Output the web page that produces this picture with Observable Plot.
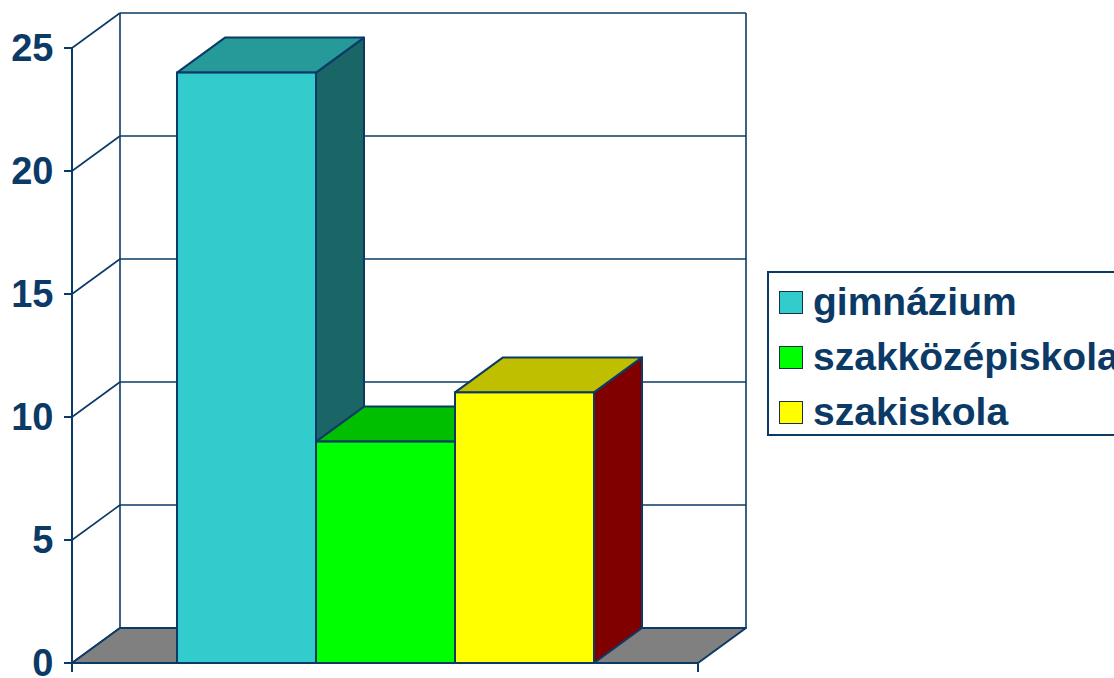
<!DOCTYPE html>
<html>
<head>
<meta charset="utf-8">
<script src="https://cdn.jsdelivr.net/npm/d3@7"></script>
<script src="https://cdn.jsdelivr.net/npm/@observablehq/plot@0.6"></script>
<style>
  html, body { margin: 0; padding: 0; background: #fff; overflow: hidden; }
  #wrap { position: relative; width: 1114px; height: 678px; overflow: hidden; font-family: "Liberation Sans", Arial, sans-serif; }
  #legend { position: absolute; left: 767px; top: 271px; width: 420px; height: 165px; border: 2px solid #0b3a66; box-sizing: border-box; }
  .item { position: absolute; left: 10px; height: 40px; display: flex; align-items: center; white-space: nowrap; }
  .sw { width: 22px; height: 21px; border: 1.5px solid #1a2f4a; margin-right: 10px; flex: none; }
  .lab { font-weight: bold; font-size: 39px; color: #0b3a66; line-height: 40px; }
</style>
</head>
<body>
<div id="wrap"></div>
<script>
const categories = ["gimnázium", "szakközépiskola", "szakiskola"];
const values = [24, 9, 11];
const yTicks = [0, 5, 10, 15, 20, 25];
const frontColors = ["#33CCCC", "#00FF00", "#FFFF00"];
const topColors = ["#269999", "#00BF00", "#BFBF00"];
const sideColors = ["#1A6666", "#008000", "#800000"];

const data = categories.map((c, i) => ({cat: c, value: values[i]}));

const NAVY = "#0b3a66";
const DX = 48, DY = -35;

function pts(arr) { return arr.map(p => p.join(",")).join(" "); }

// back wall, gridlines, floor, and 3D axis connectors
function wallMark(index, scales, vals, dim) {
  const {y} = scales;
  const g = d3.create("svg:g");
  const x0 = dim.marginLeft, x1 = dim.width - dim.marginRight;
  for (const t of yTicks) {
    g.append("line").attr("x1", x0 + DX).attr("x2", x1 + DX)
      .attr("y1", y(t) + DY).attr("y2", y(t) + DY)
      .attr("stroke", NAVY).attr("stroke-width", 1.6);
    g.append("line").attr("x1", x0).attr("x2", x0 + DX)
      .attr("y1", y(t)).attr("y2", y(t) + DY)
      .attr("stroke", NAVY).attr("stroke-width", 1.6);
  }
  g.append("line").attr("x1", x0 + DX).attr("x2", x0 + DX)
    .attr("y1", y(25) + DY).attr("y2", y(0) + DY).attr("stroke", NAVY).attr("stroke-width", 1.6);
  g.append("line").attr("x1", x1 + DX).attr("x2", x1 + DX)
    .attr("y1", y(25) + DY).attr("y2", y(0) + DY).attr("stroke", NAVY).attr("stroke-width", 1.6);
  g.append("polygon")
    .attr("points", pts([[x0, y(0)], [x1, y(0)], [x1 + DX, y(0) + DY], [x0 + DX, y(0) + DY]]))
    .attr("fill", "#808080").attr("stroke", NAVY).attr("stroke-width", 2).attr("stroke-linejoin", "round");
  return g.node();
}

// side and top faces of bars
function facesMark(index, scales, vals, dim) {
  const {x, y} = scales;
  const bw = x.bandwidth();
  const g = d3.create("svg:g");
  data.forEach((d, i) => {
    const l = x(d.cat), r = l + bw, t = y(d.value), b = y(0);
    g.append("polygon")
      .attr("points", pts([[r, t], [r + DX, t + DY], [r + DX, b + DY], [r, b]]))
      .attr("fill", sideColors[i]).attr("stroke", NAVY).attr("stroke-width", 2).attr("stroke-linejoin", "round");
  });
  data.forEach((d, i) => {
    const l = x(d.cat), r = l + bw, t = y(d.value);
    g.append("polygon")
      .attr("points", pts([[l, t], [r, t], [r + DX, t + DY], [l + DX, t + DY]]))
      .attr("fill", topColors[i]).attr("stroke", NAVY).attr("stroke-width", 2).attr("stroke-linejoin", "round");
  });
  return g.node();
}

// front axes
function axisMark(index, scales, vals, dim) {
  const {y} = scales;
  const g = d3.create("svg:g");
  const x0 = dim.marginLeft, x1 = dim.width - dim.marginRight;
  g.append("line").attr("x1", x0).attr("x2", x0).attr("y1", y(25)).attr("y2", y(0) + 9)
    .attr("stroke", NAVY).attr("stroke-width", 2);
  g.append("line").attr("x1", x0).attr("x2", x1).attr("y1", y(0)).attr("y2", y(0))
    .attr("stroke", NAVY).attr("stroke-width", 2);
  g.append("line").attr("x1", x1).attr("x2", x1).attr("y1", y(0)).attr("y2", y(0) + 9)
    .attr("stroke", NAVY).attr("stroke-width", 2);
  for (const t of yTicks) {
    g.append("line").attr("x1", x0 - 8).attr("x2", x0).attr("y1", y(t)).attr("y2", y(t))
      .attr("stroke", NAVY).attr("stroke-width", 2);
  }
  return g.node();
}

const chart = Plot.plot({
  width: 1114,
  height: 678,
  marginLeft: 72,
  marginRight: 416,
  marginTop: 48,
  marginBottom: 15,
  style: {background: "white", fontFamily: "'Liberation Sans', Arial, sans-serif", overflow: "visible"},
  x: {type: "band", domain: categories, paddingInner: 0, paddingOuter: 0.75, axis: null},
  y: {domain: [0, 25], axis: null},
  color: {domain: categories, range: frontColors},
  marks: [
    wallMark,
    facesMark,
    Plot.barY(data, {x: "cat", y: "value", fill: "cat", stroke: NAVY, strokeWidth: 2}),
    axisMark,
    Plot.text(yTicks, {y: d => d, text: d => String(d), frameAnchor: "left", dx: -19, textAnchor: "end",
      fontSize: 38, fontWeight: "bold", fill: NAVY})
  ]
});

const wrap = document.getElementById("wrap");
wrap.appendChild(chart);

const legend = document.createElement("div");
legend.id = "legend";
const rowTops = [19, 74, 129];
categories.forEach((c, i) => {
  const item = document.createElement("div");
  item.className = "item";
  item.style.top = rowTops[i] - 10 + "px";
  const sw = document.createElement("div");
  sw.className = "sw";
  sw.style.background = frontColors[i];
  const lab = document.createElement("span");
  lab.className = "lab";
  lab.textContent = c;
  item.appendChild(sw);
  item.appendChild(lab);
  legend.appendChild(item);
});
wrap.appendChild(legend);
</script>
</body>
</html>
